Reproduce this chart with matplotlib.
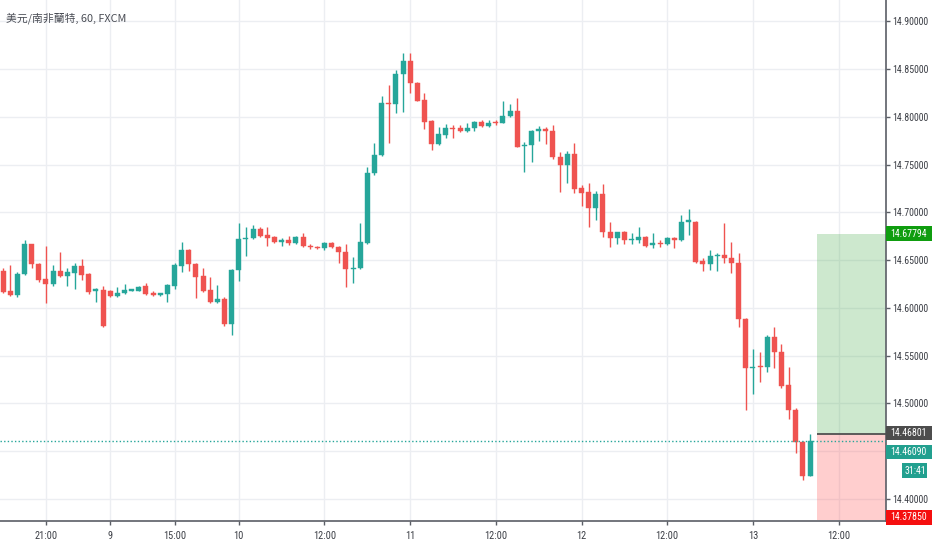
import matplotlib
matplotlib.use("Agg")
import matplotlib.pyplot as plt
from matplotlib import font_manager
from matplotlib.font_manager import FontProperties
from matplotlib.patches import Rectangle
import numpy as np

# ---------------- data ----------------
opens = [14.6388, 14.6182, 14.6136, 14.6356, 14.6667, 14.6457, 14.6304, 14.6251, 14.6391, 14.6335,
         14.6370, 14.6443, 14.6356, 14.6178, 14.6189, 14.6182, 14.6129, 14.6154, 14.6182, 14.6182,
         14.6231, 14.6154, 14.6136, 14.6147, 14.6234, 14.6443, 14.6608, 14.6461, 14.6335, 14.6189,
         14.6067, 14.6091, 14.5829, 14.6398, 14.6723, 14.6730, 14.6824, 14.6761, 14.6740, 14.6691,
         14.6712, 14.6677, 14.6747, 14.6653, 14.6642, 14.6625, 14.6677, 14.6642, 14.6583, 14.6405,
         14.6415, 14.6684, 14.7410, 14.7602, 14.8143, 14.8132, 14.8450, 14.8590, 14.8359, 14.8178,
         14.7958, 14.7714, 14.7811, 14.7888, 14.7881, 14.7853, 14.7881, 14.7951, 14.7909, 14.7951,
         14.7940, 14.8010, 14.8063, 14.7696, 14.7707, 14.7857, 14.7871, 14.7857, 14.7584, 14.7497,
         14.7612, 14.7253, 14.7218, 14.7043, 14.7193, 14.6799, 14.6729, 14.6792, 14.6712, 14.6712,
         14.6747, 14.6660, 14.6684, 14.6670, 14.6736, 14.6712, 14.6904, 14.6904, 14.6492, 14.6457,
         14.6545, 14.6555, 14.6520, 14.6475, 14.5882, 14.5369, 14.5386, 14.5379, 14.5700, 14.5536,
         14.5194, 14.4932, 14.4601, 14.4241]
highs = [14.6415, 14.6450, 14.6381, 14.6712, 14.6675, 14.6468, 14.6653, 14.6450, 14.6590, 14.6415,
         14.6475, 14.6513, 14.6363, 14.6206, 14.6231, 14.6189, 14.6217, 14.6252, 14.6196, 14.6231,
         14.6259, 14.6178, 14.6161, 14.6252, 14.6475, 14.6695, 14.6615, 14.6468, 14.6415, 14.6321,
         14.6241, 14.6112, 14.6408, 14.6894, 14.6845, 14.6869, 14.6852, 14.6845, 14.6754, 14.6730,
         14.6754, 14.6754, 14.6782, 14.6670, 14.6649, 14.6688, 14.6695, 14.6653, 14.6670, 14.6531,
         14.6894, 14.7473, 14.7731, 14.8220, 14.8335, 14.8492, 14.8673, 14.8666, 14.8365, 14.8248,
         14.7968, 14.7899, 14.7923, 14.7916, 14.7916, 14.7933, 14.7958, 14.7968, 14.7968, 14.7968,
         14.8167, 14.8132, 14.8195, 14.7741, 14.7864, 14.7906, 14.7892, 14.7916, 14.7637, 14.7644,
         14.7724, 14.7288, 14.7305, 14.7225, 14.7298, 14.6904, 14.6799, 14.6810, 14.6789, 14.6844,
         14.6754, 14.6789, 14.6712, 14.6747, 14.6747, 14.6974, 14.7033, 14.6911, 14.6520, 14.6607,
         14.6580, 14.6887, 14.6695, 14.6573, 14.5892, 14.5567, 14.5543, 14.5718, 14.5805, 14.5623,
         14.5386, 14.4950, 14.4611, 14.4678]
lows = [14.6160, 14.6129, 14.6119, 14.6346, 14.6422, 14.6276, 14.6049, 14.6234, 14.6321, 14.6231,
        14.6199, 14.6293, 14.6147, 14.6067, 14.5805, 14.6119, 14.6119, 14.6147, 14.6178, 14.6175,
        14.6140, 14.6129, 14.6129, 14.6067, 14.6196, 14.6381, 14.6388, 14.6108, 14.6171, 14.6049,
        14.6049, 14.5812, 14.5718, 14.6283, 14.6548, 14.6723, 14.6747, 14.6649, 14.6677, 14.6649,
        14.6660, 14.6670, 14.6642, 14.6614, 14.6614, 14.6608, 14.6625, 14.6468, 14.6224, 14.6258,
        14.6405, 14.6670, 14.7393, 14.7592, 14.7731, 14.8045, 14.8056, 14.8255, 14.8165, 14.7871,
        14.7654, 14.7707, 14.7776, 14.7776, 14.7846, 14.7846, 14.7857, 14.7892, 14.7899, 14.7916,
        14.7933, 14.8003, 14.7682, 14.7427, 14.7532, 14.7752, 14.7717, 14.7560, 14.7218, 14.7305,
        14.7201, 14.7068, 14.6852, 14.6921, 14.6740, 14.6642, 14.6670, 14.6667, 14.6670, 14.6677,
        14.6642, 14.6625, 14.6635, 14.6660, 14.6625, 14.6705, 14.6760, 14.6468, 14.6391, 14.6398,
        14.6391, 14.6475, 14.6370, 14.5805, 14.4932, 14.5100, 14.5229, 14.5334, 14.5369, 14.5159,
        14.4838, 14.4486, 14.4199, 14.4241]
closes = [14.6171, 14.6136, 14.6356, 14.6667, 14.6457, 14.6293, 14.6251, 14.6388, 14.6335, 14.6381,
          14.6443, 14.6346, 14.6171, 14.6196, 14.5812, 14.6129, 14.6154, 14.6189, 14.6189, 14.6224,
          14.6147, 14.6136, 14.6154, 14.6241, 14.6450, 14.6608, 14.6457, 14.6328, 14.6182, 14.6067,
          14.6091, 14.5829, 14.6398, 14.6723, 14.6733, 14.6824, 14.6754, 14.6730, 14.6688, 14.6712,
          14.6677, 14.6747, 14.6649, 14.6635, 14.6625, 14.6684, 14.6635, 14.6583, 14.6405, 14.6415,
          14.6695, 14.7417, 14.7602, 14.8143, 14.8132, 14.8450, 14.8590, 14.8352, 14.8171, 14.7951,
          14.7714, 14.7818, 14.7888, 14.7874, 14.7853, 14.7881, 14.7944, 14.7906, 14.7940, 14.7940,
          14.8010, 14.8063, 14.7689, 14.7707, 14.7857, 14.7871, 14.7857, 14.7578, 14.7497, 14.7612,
          14.7246, 14.7207, 14.7043, 14.7193, 14.6792, 14.6729, 14.6792, 14.6712, 14.6719, 14.6747,
          14.6653, 14.6684, 14.6670, 14.6736, 14.6712, 14.6904, 14.6911, 14.6485, 14.6457, 14.6545,
          14.6555, 14.6520, 14.6468, 14.5882, 14.5369, 14.5379, 14.5379, 14.5700, 14.5536, 14.5184,
          14.4932, 14.4601, 14.4241, 14.4609]
# colour flag per candle (True = up/teal)
up_flags = [c > o for o, c in zip(opens, closes)]
up_flags[13] = True; up_flags[18] = True; up_flags[105] = True; up_flags[106] = False
up_flags[34] = True; up_flags[54] = False; up_flags[58] = False

time_tick_index = [6, 15, 24, 33, 45, 57, 69, 81, 93, 105, 117]
time_tick_labels = ["21:00", "9", "15:00", "10", "12:00", "11", "12:00", "12", "12:00", "13", "12:00"]
price_grid = [14.40, 14.45, 14.50, 14.55, 14.60, 14.65, 14.70, 14.75, 14.80, 14.85, 14.90]
price_labels = ["14.40000", "", "14.50000", "14.55000", "14.60000", "14.65000", "14.70000",
                "14.75000", "14.80000", "14.85000", "14.90000"]
title_text = "美元/南非蘭特, 60, FXCM"
entry_price = 14.46801
target_price = 14.67794
stop_price = 14.37850
countdown_text = "31:41"
position_start_index = 114

# ---------------- style ----------------
UP = "#26a69a"
DOWN = "#ef5350"
GRID = "#eceef2"
AXIS = "#5b5e66"
TXT = "#3c3f46"

W, H = 932, 550
fig = plt.figure(figsize=(W / 100, H / 100), dpi=100)
fig.patch.set_facecolor("white")


def pick_narrow_font():
    fl = font_manager.fontManager.ttflist
    for f in fl:
        if f.name == "Liberation Sans Narrow" and f.weight in (400, "normal") and f.style == "normal":
            return FontProperties(fname=f.fname)
    for pref in ["Roboto", "Open Sans", "Noto Sans", "DejaVu Sans", "Liberation Sans", "Lato", "Inter"]:
        for f in fl:
            if (f.name == pref or f.name.startswith(pref + " ")) and f.style == "normal" \
                    and f.weight in (400, "normal", "regular") \
                    and (f.stretch in ("condensed", "semi-condensed", "extra-condensed")
                         or "Condensed" in f.name or "Narrow" in f.name):
                return FontProperties(fname=f.fname)
    return FontProperties(family="Liberation Sans")


NARROW_FP = pick_narrow_font()
renderer = fig.canvas.get_renderer()


def fit_size(text, target_px):
    t = fig.text(0, 0, text, fontproperties=NARROW_FP, size=10)
    w = t.get_window_extent(renderer).width
    t.remove()
    return 10.0 * target_px / w


PSIZE = fit_size("14.70000", 36.5)
TSIZE = fit_size("21:00", 22.5)

ax_left, ax_right, ax_top, ax_bot = 0.0, 885.7, 0.0, 521.0
ax = fig.add_axes([ax_left / W, 1 - ax_bot / H, (ax_right - ax_left) / W, (ax_bot - ax_top) / H])
ax.set_facecolor("white")

n = len(opens)
idx = np.arange(n)
ymin, ymax = 14.37696, 14.92251
ax.set_xlim(-0.44, 123.6)
ax.set_ylim(ymin, ymax)

# grid
for p in price_grid:
    ax.axhline(p, color=GRID, lw=1.0, zorder=0)
for t in time_tick_index:
    ax.axvline(t, color=GRID, lw=1.0, zorder=0)

# candles
o = np.array(opens); c = np.array(closes); h = np.array(highs); l = np.array(lows)
cols = [UP if u else DOWN for u in up_flags]
min_body = (ymax - ymin) / 521 * 1.2
bottoms = np.minimum(o, c)
heights = np.maximum(np.abs(c - o), min_body)
ax.vlines(idx, l, h, colors=cols, lw=1.0, zorder=2)
ax.bar(idx, heights, bottom=bottoms, width=0.7, color=cols, edgecolor=cols, lw=0.3, zorder=3)

# position tool (long)
x_end = 130
ax.add_patch(Rectangle((position_start_index, entry_price), x_end - position_start_index,
                       target_price - entry_price, facecolor="#4caf50", alpha=0.28, lw=0, zorder=1))
ax.add_patch(Rectangle((position_start_index, stop_price), x_end - position_start_index,
                       entry_price - stop_price, facecolor="#ff5252", alpha=0.28, lw=0, zorder=1))
ax.plot([position_start_index, x_end], [entry_price, entry_price], color="#505050", lw=1.3, zorder=4,
        solid_capstyle="butt")

# current price dotted line
last_price = closes[-1]
ax.axhline(last_price, color=UP, lw=1.0, ls=(0, (1, 1.6)), zorder=4)

# axes / ticks
for s in ["top", "left"]:
    ax.spines[s].set_visible(False)
for s in ["right", "bottom"]:
    ax.spines[s].set_color(AXIS)
    ax.spines[s].set_linewidth(1.2)
ax.yaxis.tick_right()
ax.set_yticks(price_grid)
ax.set_yticklabels(price_labels)
ax.set_xticks(time_tick_index)
ax.set_xticklabels(time_tick_labels)
ax.tick_params(axis="y", length=3, width=1, color=AXIS, pad=1.5, labelcolor=TXT)
ax.tick_params(axis="x", length=3, width=1, color=AXIS, pad=4.5, labelcolor=TXT)
for lab in ax.get_yticklabels():
    lab.set_fontproperties(NARROW_FP)
    lab.set_fontsize(PSIZE)
for lab in ax.get_xticklabels():
    lab.set_fontproperties(NARROW_FP)
    lab.set_fontsize(TSIZE)

# title
fig.text(6 / W, 1 - 18 / H, title_text, ha="left", va="center", fontsize=7.8, color="#4a4d55",
         family=["Noto Sans CJK TC", "DejaVu Sans"])


def py(p):
    return ax_top + (ymax - p) / (ymax - ymin) * (ax_bot - ax_top)


def label_box(yc, text, color, x0=885.7, x1=932, hgt=15, tx=890):
    fig.patches.append(Rectangle((x0 / W, 1 - (yc + hgt / 2) / H), (x1 - x0) / W, hgt / H,
                                 transform=fig.transFigure, facecolor=color, edgecolor="none",
                                 zorder=5, figure=fig))
    t = fig.text(tx / W, 1 - yc / H, text, ha="left", va="center", color="white",
                 fontproperties=NARROW_FP, zorder=6)
    t.set_fontsize(PSIZE)


label_box(py(target_price), f"{target_price:.5f}", "#0f9d0f")
label_box(py(entry_price) - 0.7, f"{entry_price:.5f}", "#4d4d4d", hgt=14)
label_box(py(last_price) + 11, f"{last_price:.5f}", "#22a08f", hgt=14)
label_box(py(last_price) + 30, countdown_text, "#22a08f", x0=902.3, x1=926.7, hgt=15, tx=904.5)
label_box(py(stop_price) - 2.5, f"{stop_price:.5f}", "#f50f0f", hgt=15)

fig.savefig("out.png", dpi=100)
